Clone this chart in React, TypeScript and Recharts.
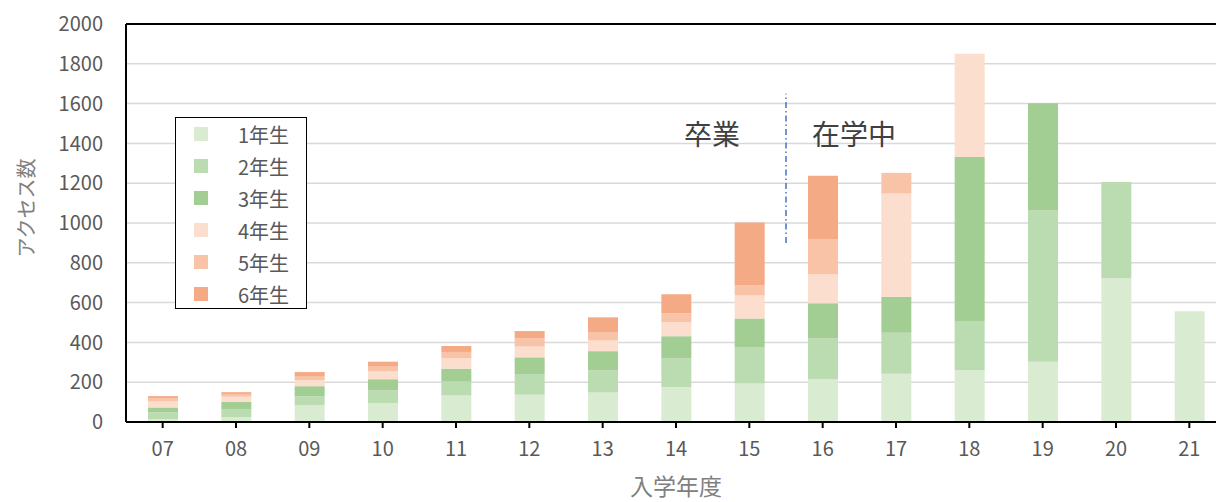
import React from "react";
import {
  BarChart,
  Bar,
  XAxis,
  YAxis,
  CartesianGrid,
  Legend,
  ReferenceLine,
} from "recharts";

const years = ["07", "08", "09", "10", "11", "12", "13", "14", "15", "16", "17", "18", "19", "20", "21"];
const grade1 = [15, 25, 85, 95, 133, 137, 148, 175, 193, 216, 243, 260, 303, 722, 556];
const grade2 = [33, 40, 45, 65, 70, 104, 111, 144, 181, 203, 206, 248, 760, 484, 0];
const grade3 = [25, 37, 50, 55, 65, 84, 97, 112, 146, 178, 181, 824, 539, 0, 0];
const grade4 = [30, 25, 30, 40, 52, 54, 54, 70, 116, 144, 518, 519, 0, 0, 0];
const grade5 = [17, 14, 18, 23, 32, 42, 42, 45, 50, 179, 104, 0, 0, 0, 0];
const grade6 = [10, 9, 23, 25, 30, 36, 74, 96, 317, 317, 0, 0, 0, 0, 0];
const yTicks = [0, 200, 400, 600, 800, 1000, 1200, 1400, 1600, 1800, 2000];

const seriesNames = ["1年生", "2年生", "3年生", "4年生", "5年生", "6年生"];
const seriesColors = ["#d9ecd2", "#bbdcb0", "#a2ce94", "#fbdece", "#f8c3a7", "#f4aa84"];

const data = years.map((y, i) => ({
  year: y,
  g1: grade1[i],
  g2: grade2[i],
  g3: grade3[i],
  g4: grade4[i],
  g5: grade5[i],
  g6: grade6[i],
}));

const FONT = '"Noto Sans CJK JP", "Noto Sans", sans-serif';

const renderLegend = (props: any) => {
  const { payload } = props;
  return (
    <div
      style={{
        width: 130,
        height: 190,
        border: "1.5px solid #000",
        background: "#fff",
        fontFamily: FONT,
      }}
    >
      {payload.map((entry: any) => (
        <div key={entry.value} style={{ height: 32, display: "flex", alignItems: "center" }}>
          <span
            style={{
              display: "inline-block",
              width: 14,
              height: 14,
              marginLeft: 18,
              background: entry.color,
            }}
          />
          <span style={{ marginLeft: 30, fontSize: 20, color: "#595959" }}>{entry.value}</span>
        </div>
      ))}
    </div>
  );
};

const YLabel = (props: any) => {
  const { viewBox } = props;
  const cx = viewBox.x + 25;
  const cy = viewBox.y + viewBox.height / 2 - 15;
  return (
    <text
      x={cx}
      y={cy}
      transform={`rotate(-90, ${cx}, ${cy})`}
      textAnchor="middle"
      dominantBaseline="central"
      fill="#808080"
      fontSize={20}
      fontFamily={FONT}
    >
      アクセス数
    </text>
  );
};

const DividerLabel = (props: any) => {
  const { viewBox } = props;
  const x = viewBox.x;
  const y = viewBox.y + 51;
  return (
    <g fontFamily={FONT} fontSize={28} fill="#404040">
      <text x={x - 46} y={y} textAnchor="end">
        卒業
      </text>
      <text x={x + 26} y={y} textAnchor="start">
        在学中
      </text>
    </g>
  );
};

const App: React.FC = () => {
  return (
    <div
      style={{
        position: "fixed",
        left: 0,
        top: 0,
        width: 1216,
        height: 502,
        overflow: "hidden",
        background: "#fff",
      }}
    >
      <BarChart
        width={1232}
        height={502}
        data={data}
        margin={{ top: 24, right: 6, bottom: 0, left: 0 }}
        barSize={30}
      >
        <CartesianGrid vertical={false} stroke="#d9d9d9" strokeWidth={1.5} />
        <XAxis
          dataKey="year"
          height={80}
          axisLine={{ stroke: "#000", strokeWidth: 2 }}
          tickLine={{ stroke: "#000", strokeWidth: 2 }}
          tickSize={6}
          tickMargin={14}
          tick={{ fill: "#595959", fontSize: 20, fontFamily: FONT }}
          label={{
            value: "入学年度",
            position: "insideBottom",
            offset: 7,
            fill: "#808080",
            fontSize: 23,
            fontFamily: FONT,
          }}
        />
        <YAxis
          width={126}
          domain={[0, 2000]}
          ticks={yTicks}
          interval={0}
          axisLine={{ stroke: "#000", strokeWidth: 2 }}
          tickLine={false}
          tickSize={0}
          tickMargin={23}
          tick={{ fill: "#595959", fontSize: 20, fontFamily: FONT }}
          label={<YLabel />}
        />
        <ReferenceLine y={2000} stroke="#000" strokeWidth={2} />
        <ReferenceLine
          segment={[
            { x: "16", y: 900 },
            { x: "16", y: 1650 },
          ]}
          position="start"
          stroke="#4472c4"
          strokeWidth={1.5}
          strokeDasharray="6 3 1.5 3"
          label={<DividerLabel />}
        />
        <Legend
          layout="vertical"
          align="center"
          verticalAlign="middle"
          content={renderLegend}
          wrapperStyle={{ left: 175, top: 117, width: 132, height: 192 }}
        />
        {["g1", "g2", "g3", "g4", "g5", "g6"].map((key, i) => (
          <Bar
            key={key}
            dataKey={key}
            name={seriesNames[i]}
            stackId="a"
            fill={seriesColors[i]}
            isAnimationActive={false}
          />
        ))}
      </BarChart>
    </div>
  );
};

export default App;
